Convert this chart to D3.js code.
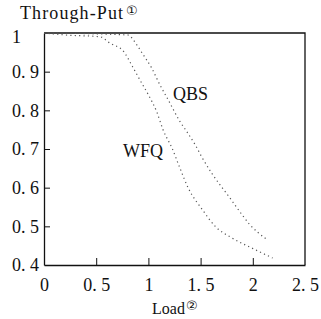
<!DOCTYPE html>
<html>
<head>
<meta charset="utf-8">
<script src="https://cdn.jsdelivr.net/npm/d3@7"></script>
<style>
  body { margin: 0; background: #fff; }
  svg { display: block; }
</style>
</head>
<body>
<script>
// throughput vs load
const wfqLoad = [0, 0.2, 0.54, 0.63, 0.76, 0.85, 0.92, 1.0, 1.08, 1.14, 1.23, 1.30, 1.38, 1.52, 1.64, 1.80, 1.99, 2.19];
const wfqPut  = [1.0, 0.995, 0.99, 0.974, 0.953, 0.912, 0.878, 0.84, 0.796, 0.75, 0.70, 0.652, 0.60, 0.542, 0.500, 0.47, 0.444, 0.418];
const qbsLoad = [0, 0.8, 0.89, 0.94, 1.03, 1.11, 1.19, 1.30, 1.38, 1.45, 1.51, 1.61, 1.76, 1.90, 1.97, 2.05, 2.14];
const qbsPut  = [1.0, 0.995, 0.969, 0.948, 0.91, 0.866, 0.827, 0.772, 0.74, 0.71, 0.68, 0.636, 0.581, 0.529, 0.505, 0.484, 0.465];
const xTicks = [0, 0.5, 1, 1.5, 2, 2.5];
const yTicks = [0.4, 0.5, 0.6, 0.7, 0.8, 0.9, 1];

const SERIF = 'Liberation Serif';
const W = 321, H = 319;
const svg = d3.select('body').append('svg').attr('width', W).attr('height', H)
  .attr('font-family', SERIF);

const x = d3.scaleLinear().domain([0, 2.5]).range([44, 305]);
const y = d3.scaleLinear().domain([0.4, 1]).range([265, 33]);

const fmt = d => Number.isInteger(d) ? String(d) : d3.format('.1f')(d).replace('.', '. ');

// frame (top + right)
svg.append('path')
  .attr('d', `M${x(0)},${y(1)}H${x(2.5)}V${y(0.4)}`)
  .attr('fill', 'none').attr('stroke', '#111').attr('stroke-width', 1.3);

// left axis, ticks pointing inward
const gy = svg.append('g').attr('transform', `translate(${x(0)},0)`)
  .call(d3.axisLeft(y).tickValues(yTicks).tickSize(-6).tickSizeOuter(0).tickFormat(fmt))
  .attr('font-family', SERIF).attr('font-size', 18);
gy.select('.domain').attr('stroke', '#111').attr('stroke-width', 1.3);
gy.selectAll('.tick line').attr('stroke', '#111');
gy.selectAll('.tick text')
  .attr('x', -32).attr('text-anchor', 'start').attr('fill', '#111');
gy.selectAll('.tick').filter(d => d === 1 || d === 0.4).select('line').remove();
gy.selectAll('.tick').filter(d => d === 1).select('text').attr('dy', '0.55em');

// bottom axis
const gx = svg.append('g').attr('transform', `translate(0,${y(0.4)})`)
  .call(d3.axisBottom(x).tickValues(xTicks).tickSize(-7).tickSizeOuter(0).tickFormat(fmt))
  .attr('font-family', SERIF).attr('font-size', 18);
gx.select('.domain').attr('stroke', '#111').attr('stroke-width', 1.3);
gx.selectAll('.tick line').attr('stroke', '#111');
gx.selectAll('.tick text').attr('y', 13).attr('fill', '#111');
gx.selectAll('.tick').filter(d => d === 0 || d === 2.5).select('line').remove();

// curves
const line = d3.line().x(d => x(d[0])).y(d => y(d[1])).curve(d3.curveMonotoneX);
const series = [
  {name: 'WFQ', pts: d3.zip(wfqLoad, wfqPut)},
  {name: 'QBS', pts: d3.zip(qbsLoad, qbsPut)}
];
svg.selectAll('.curve').data(series).join('path')
  .attr('class', 'curve')
  .attr('d', d => line(d.pts))
  .attr('fill', 'none')
  .attr('stroke', '#555')
  .attr('stroke-width', 1.2)
  .attr('stroke-dasharray', '1.2,3.2');

// series labels
svg.append('text').attr('x', 173).attr('y', 100).attr('font-size', 18).attr('fill', '#111').text('QBS');
svg.append('text').attr('x', 123).attr('y', 157).attr('font-size', 18).attr('fill', '#111').text('WFQ');

// axis titles
const title = svg.append('text').attr('x', 20).attr('y', 19).attr('font-size', 18).attr('fill', '#111');
title.append('tspan').attr('textLength', 103).text('Through-Put');
title.append('tspan').attr('font-family', 'DejaVu Sans').attr('dx', 2).attr('dy', -4).attr('font-size', 13).text('①');

const xlab = svg.append('text').attr('x', 152).attr('y', 314).attr('font-size', 16).attr('fill', '#111');
xlab.append('tspan').text('Load');
xlab.append('tspan').attr('font-family', 'DejaVu Sans').attr('dx', 1).attr('dy', -4).attr('font-size', 13).text('②');
</script>
</body>
</html>
